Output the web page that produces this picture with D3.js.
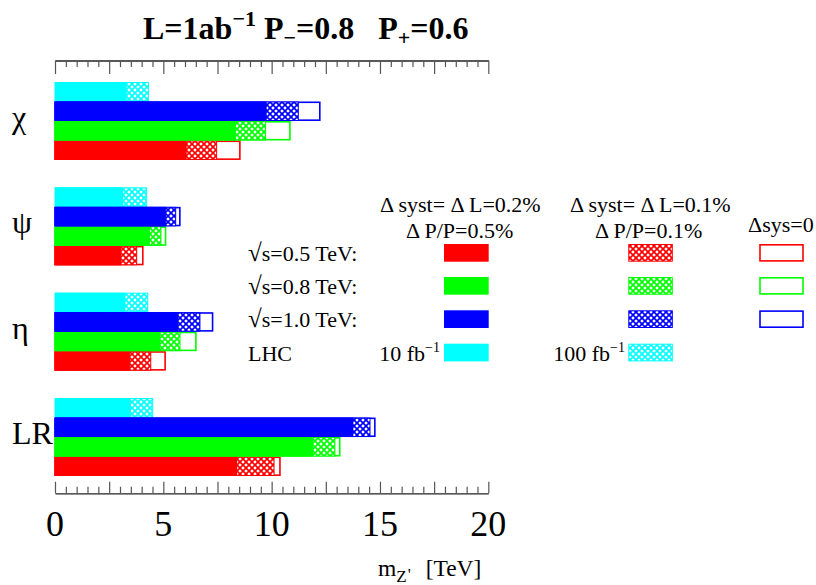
<!DOCTYPE html>
<html>
<head>
<meta charset="utf-8">
<script src="https://cdn.jsdelivr.net/npm/d3@7"></script>
<style>
  html, body { margin: 0; padding: 0; background: #fff; }
  svg { display: block; }
  text { font-family: "Liberation Serif", "Times New Roman", serif; fill: #000; white-space: pre; }
</style>
</head>
<body>
<svg id="chart" width="816" height="585"></svg>
<script>
// Z' models shown as rows, top to bottom
const models = ["χ", "ψ", "η", "LR"];

// LHC reach [TeV] for 10 fb^-1 and 100 fb^-1
const lhc10  = [3.31, 3.15, 3.25, 3.49];
const lhc100 = [4.31, 4.23, 4.28, 4.51];

// ILC reach [TeV], L = 1 ab^-1: sqrt(s) = 0.5 TeV
const s05_sys02 = [6.08, 3.05, 3.46, 8.41];
const s05_sys01 = [7.46, 3.77, 4.42, 10.11];
const s05_sys0  = [8.57, 4.09, 5.12, 10.42];

// sqrt(s) = 0.8 TeV
const s08_sys02 = [8.35, 4.38, 4.85, 11.92];
const s08_sys01 = [9.72, 4.89, 5.77, 12.92];
const s08_sys0  = [10.88, 5.14, 6.54, 13.18];

// sqrt(s) = 1.0 TeV
const s10_sys02 = [9.77, 5.12, 5.69, 13.77];
const s10_sys01 = [11.23, 5.57, 6.69, 14.54];
const s10_sys0  = [12.26, 5.80, 7.31, 14.80];

// rows inside each model block, top to bottom
const rowKeys = ["lhc", "s10", "s08", "s05"];
const colors = { lhc: "#00ffff", s10: "#0000ff", s08: "#00ff00", s05: "#ff0000" };

const energyRows = [
  { key: "s05", label: "s=0.5 TeV:", sys02: s05_sys02, sys01: s05_sys01, sys0: s05_sys0 },
  { key: "s08", label: "s=0.8 TeV:", sys02: s08_sys02, sys01: s08_sys01, sys0: s08_sys0 },
  { key: "s10", label: "s=1.0 TeV:", sys02: s10_sys02, sys01: s10_sys01, sys0: s10_sys0 }
];

// axis tick labels
const xMajorLabels = [0, 5, 10, 15, 20];

const svg = d3.select("#chart");

const x = d3.scaleLinear().domain([0, 20]).range([55, 488.3]);
const yModel = d3.scaleBand().domain(models).range([82, 476]).paddingInner(0.26);
const yRow = d3.scaleBand().domain(rowKeys).range([0, yModel.bandwidth()]);

// cross-hatch patterns, one per colour
const defs = svg.append("defs");
const T = 6;
Object.entries(colors).forEach(([k, c]) => {
  const p = defs.append("pattern")
    .attr("id", "hatch-" + k)
    .attr("patternUnits", "userSpaceOnUse")
    .attr("width", T).attr("height", T);
  p.append("rect").attr("width", T).attr("height", T).attr("fill", "#fff");
  p.append("path")
    .attr("d", `M-1,-1 L${T + 1},${T + 1} M${T + 1},-1 L-1,${T + 1}`)
    .attr("stroke", c).attr("stroke-width", 1.7).attr("fill", "none");
});

// ---- bars ----
const barG = svg.append("g");
models.forEach((m, i) => {
  const y0 = yModel(m);
  const h = yRow.bandwidth();

  // LHC row: 100 fb^-1 hatched, 10 fb^-1 solid
  const yl = y0 + yRow("lhc");
  barG.append("rect")
    .attr("x", x(0)).attr("y", yl + 0.5)
    .attr("width", x(lhc100[i]) - x(0)).attr("height", h - 1)
    .attr("fill", "url(#hatch-lhc)").attr("stroke", colors.lhc).attr("stroke-width", 1);
  barG.append("rect")
    .attr("x", x(0)).attr("y", yl)
    .attr("width", x(lhc10[i]) - x(0)).attr("height", h)
    .attr("fill", colors.lhc);

  // ILC rows: open (no syst), hatched (0.1%), solid (0.2%)
  energyRows.forEach(r => {
    const yr = y0 + yRow(r.key);
    const c = colors[r.key];
    barG.append("rect")
      .attr("x", x(0)).attr("y", yr + 0.8)
      .attr("width", x(r.sys0[i]) - x(0) - 0.8).attr("height", h - 1.6)
      .attr("fill", "#fff").attr("stroke", c).attr("stroke-width", 1.6);
    barG.append("rect")
      .attr("x", x(0)).attr("y", yr + 0.5)
      .attr("width", x(r.sys01[i]) - x(0)).attr("height", h - 1)
      .attr("fill", "url(#hatch-" + r.key + ")").attr("stroke", c).attr("stroke-width", 1);
    barG.append("rect")
      .attr("x", x(0)).attr("y", yr)
      .attr("width", x(r.sys02[i]) - x(0)).attr("height", h)
      .attr("fill", c);
  });
});

// model labels
svg.append("g").selectAll("text")
  .data(models)
  .join("text")
  .attr("x", 12)
  .attr("y", d => yModel(d) + yModel.bandwidth() / 2 + 7)
  .attr("font-size", 32)
  .text(d => d);

// ---- axes (top and bottom, ticks pointing inward) ----
const tickVals = d3.range(0, 20.001, 0.5);
const isMajor = v => Math.abs(v / 2.5 - Math.round(v / 2.5)) < 1e-6;

const bottomAxis = svg.append("g")
  .attr("transform", "translate(0,493.3)")
  .call(d3.axisTop(x).tickValues(tickVals).tickSize(0).tickSizeOuter(0).tickFormat(""));
bottomAxis.select(".domain").attr("stroke", "#222").attr("stroke-width", 1.3);
bottomAxis.selectAll(".tick line")
  .attr("y2", d => isMajor(d) ? -11.6 : -6.6)
  .attr("stroke", "#555").attr("stroke-width", 1.2);

const topAxis = svg.append("g")
  .attr("transform", "translate(0,60.5)")
  .call(d3.axisBottom(x).tickValues(tickVals).tickSize(0).tickSizeOuter(0).tickFormat(""));
topAxis.select(".domain").attr("stroke", "#222").attr("stroke-width", 1.3);
topAxis.selectAll(".tick line")
  .attr("y2", d => isMajor(d) ? 13.5 : 6.6)
  .attr("stroke", "#555").attr("stroke-width", 1.2);

// tick labels
svg.append("g").selectAll("text")
  .data(xMajorLabels)
  .join("text")
  .attr("x", d => x(d))
  .attr("y", 536)
  .attr("text-anchor", "middle")
  .attr("font-size", 36)
  .text(d => d);

// axis title m_Z' [TeV]
const xt = svg.append("text").attr("x", 378).attr("y", 576).attr("font-size", 23.5);
xt.append("tspan").text("m");
xt.append("tspan").attr("font-size", 17).attr("dy", 6).text("Z");
xt.append("tspan").attr("font-size", 17).attr("dy", -2).attr("dx", 1).text("'");
xt.append("tspan").attr("dy", -4).attr("dx", 9).text(" [TeV]");

// ---- title ----
const title = svg.append("text").attr("x", 143).attr("y", 39)
  .attr("font-size", 32).attr("font-weight", "bold");
title.append("tspan").text("L=1ab");
title.append("tspan").attr("font-size", 22).attr("dy", -13).text("−1");
title.append("tspan").attr("dy", 13).text(" P");
title.append("tspan").attr("font-size", 22).attr("dy", 6).text("−");
title.append("tspan").attr("dy", -6).text("=0.8   P");
title.append("tspan").attr("font-size", 22).attr("dy", 6).text("+");
title.append("tspan").attr("dy", -6).text("=0.6");

// ---- legend ----
const leg = svg.append("g").attr("font-size", 22);
leg.append("text").attr("x", 380).attr("y", 212).text("Δ syst= Δ L=0.2%");
leg.append("text").attr("x", 406).attr("y", 238).text("Δ P/P=0.5%");
leg.append("text").attr("x", 570).attr("y", 212).text("Δ syst= Δ L=0.1%");
leg.append("text").attr("x", 595).attr("y", 238).text("Δ P/P=0.1%");
leg.append("text").attr("x", 748).attr("y", 232).text("Δsys=0");

const legRowY = [244, 277, 310.3, 343.7];
const swH = 17.7;
energyRows.forEach((r, j) => {
  const yy = legRowY[j];
  const c = colors[r.key];
  const lt = leg.append("text").attr("x", 248).attr("y", yy + 17);
  lt.append("tspan").attr("font-size", 25).text("√");
  lt.append("tspan").text(r.label);
  leg.append("rect").attr("x", 444).attr("y", yy).attr("width", 44.7).attr("height", swH).attr("fill", c);
  leg.append("rect").attr("x", 628.8).attr("y", yy + 0.5).attr("width", 43.5).attr("height", swH - 1)
    .attr("fill", "url(#hatch-" + r.key + ")").attr("stroke", c).attr("stroke-width", 1);
  leg.append("rect").attr("x", 760).attr("y", yy + 0.8).attr("width", 43).attr("height", swH - 1.6)
    .attr("fill", "#fff").attr("stroke", c).attr("stroke-width", 1.6);
});
// LHC legend row
const yL = legRowY[3];
leg.append("text").attr("x", 248).attr("y", yL + 17).text("LHC");
const t10 = leg.append("text").attr("x", 440).attr("y", yL + 17).attr("text-anchor", "end");
t10.append("tspan").text("10 fb");
t10.append("tspan").attr("font-size", 14).attr("dy", -9).text("−1");
leg.append("rect").attr("x", 444).attr("y", yL).attr("width", 44.7).attr("height", swH).attr("fill", colors.lhc);
const t100 = leg.append("text").attr("x", 625).attr("y", yL + 17).attr("text-anchor", "end");
t100.append("tspan").text("100 fb");
t100.append("tspan").attr("font-size", 14).attr("dy", -9).text("−1");
leg.append("rect").attr("x", 628.8).attr("y", yL + 0.5).attr("width", 43.5).attr("height", swH - 1)
  .attr("fill", "url(#hatch-lhc)").attr("stroke", colors.lhc).attr("stroke-width", 1);
</script>
</body>
</html>
